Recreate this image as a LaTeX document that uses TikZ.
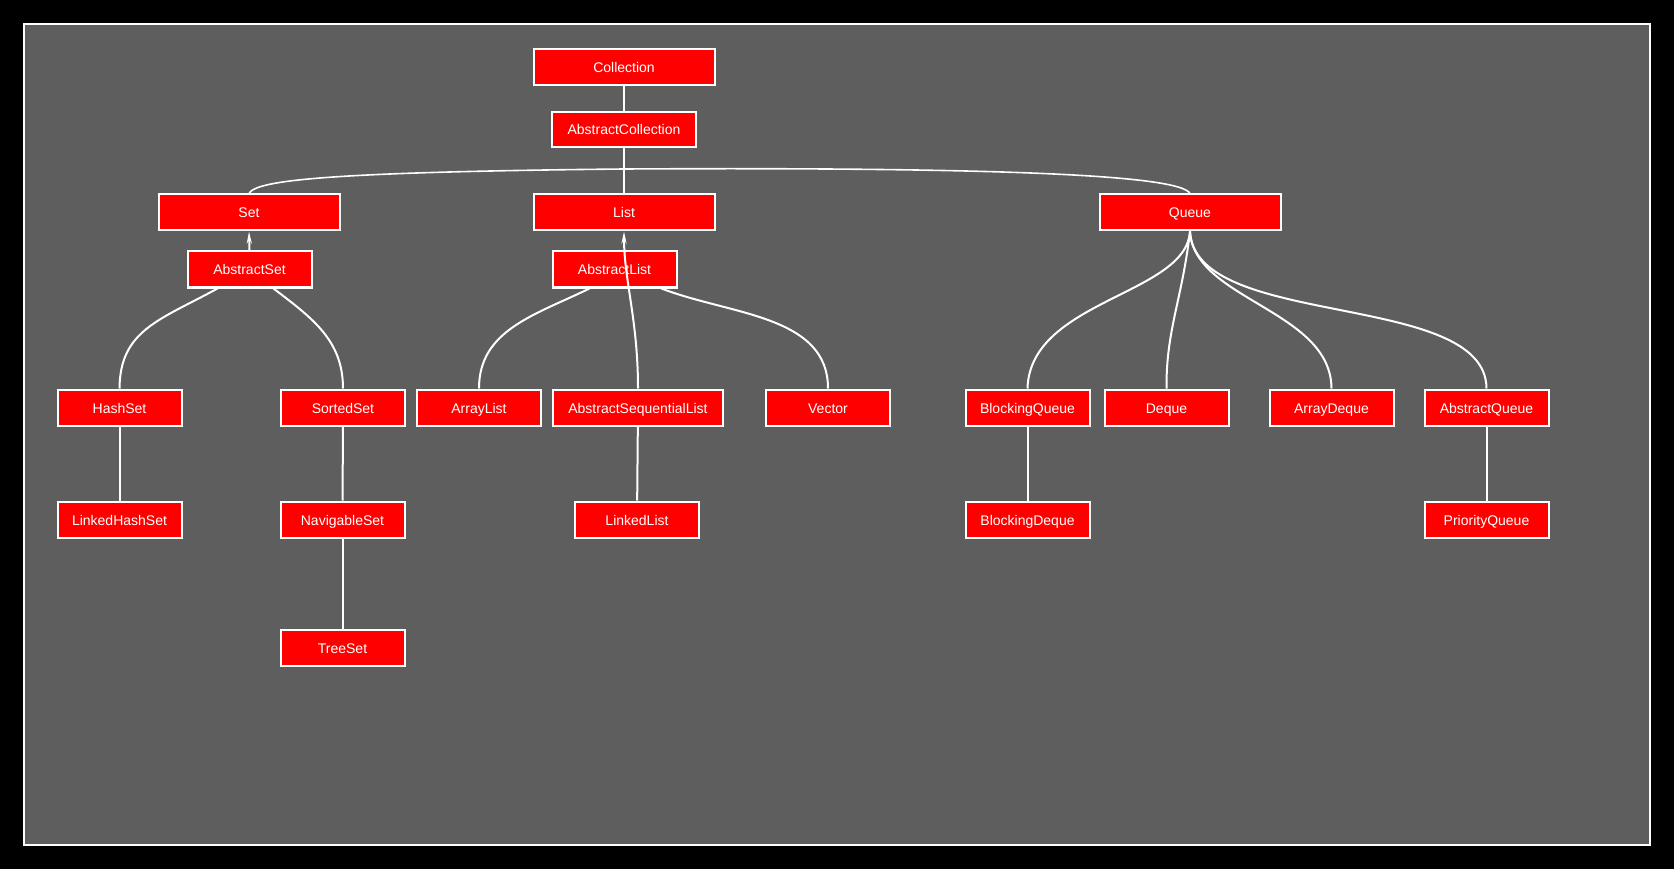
\documentclass[tikz,border=0pt]{standalone}
\usepackage{fontspec}
\setmainfont{Liberation Sans}
\usetikzlibrary{arrows.meta}
\definecolor{bggray}{RGB}{94,94,94}
\definecolor{boxred}{RGB}{255,0,0}
\tikzset{
  cls/.style={draw=white, line width=2pt, fill=boxred, text=white,
    font=\fontsize{14}{16}\selectfont, minimum height=36pt, inner sep=0pt,
    text height=12.5pt, text depth=1.5pt},
  smallcls/.style={cls, minimum width=124pt},
  bigcls/.style={cls, minimum width=181pt},
  link/.style={draw=white, line width=2pt},
  thinlink/.style={draw=white, line width=1.6pt},
  upto/.style={link, -{Stealth[length=12pt,width=5pt]}}
}
\begin{document}
\begin{tikzpicture}[x=1pt,y=-1pt]
\useasboundingbox (0,0) rectangle (1674,869);
\fill[black] (0,0) rectangle (1674,869);
\filldraw[fill=bggray, draw=white, line width=2.5pt] (24,24) rectangle (1650,845);

% nodes
\node[bigcls] (collection) at (624,67) {Collection};
\node[cls, minimum width=144pt, minimum height=35pt] (abscoll) at (624,129.5) {AbstractCollection};
\node[bigcls] (set) at (249,212.5) {Set};
\node[bigcls] (list) at (624,212.5) {List};
\node[bigcls] (queue) at (1190,212.5) {Queue};
\node[smallcls] (absset) at (249.5,269.5) {AbstractSet};
\node[smallcls] (abslist) at (614.5,269.5) {AbstractList};
\node[smallcls] (hashset) at (119.5,407.5) {HashSet};
\node[smallcls] (sortedset) at (343,407.5) {SortedSet};
\node[smallcls] (arraylist) at (479,407.5) {ArrayList};
\node[cls, minimum width=170pt] (absseq) at (638,407.5) {AbstractSequentialList};
\node[smallcls] (vector) at (828,407.5) {Vector};
\node[smallcls] (blockq) at (1027.5,407.5) {BlockingQueue};
\node[smallcls] (deque) at (1166.5,407.5) {Deque};
\node[smallcls] (arraydeque) at (1331.5,407.5) {ArrayDeque};
\node[smallcls] (absqueue) at (1486.5,407.5) {AbstractQueue};
\node[smallcls] (linkedhs) at (119.5,519.5) {LinkedHashSet};
\node[smallcls] (navset) at (342.5,519.5) {NavigableSet};
\node[smallcls] (linkedlist) at (637,519.5) {LinkedList};
\node[smallcls] (blockdeque) at (1027.5,519.5) {BlockingDeque};
\node[smallcls] (prioq) at (1486.5,519.5) {PriorityQueue};
\node[smallcls] (treeset) at (342.5,647.5) {TreeSet};

% connectors
\coordinate (hub) at (624,169);
\draw[link] (collection) -- (abscoll);
\draw[link] (abscoll) -- (list);
\draw[thinlink] (set.north) .. controls (256,180) and (330,172) .. (hub)
  .. controls (1000,167) and (1180,175) .. (queue.north);

\draw[upto] (absset.north) -- (set.south);

\draw[link] ([xshift=-32pt]absset.south) .. controls (160,320) and (120,330) .. (hashset.north);
\draw[link] ([xshift=24pt]absset.south) .. controls (312,318) and (343,340) .. (sortedset.north);
\draw[link] ([xshift=-25pt]abslist.south) .. controls (535,315) and (479,330) .. (arraylist.north);
\draw[link] ([xshift=47pt]abslist.south) .. controls (730,315) and (828,315) .. (vector.north);

\draw[link] (queue.south) .. controls (1186,295) and (1030,300) .. (blockq.north);
\draw[link] (queue.south) .. controls (1182,300) and (1166,330) .. (deque.north);
\draw[link] (queue.south) .. controls (1194,300) and (1331,310) .. (arraydeque.north);
\draw[link] (queue.south) .. controls (1195,330) and (1486,290) .. (absqueue.north);

\draw[link] (hashset) -- (linkedhs);
\draw[link] (sortedset) -- (navset);
\draw[link] (navset) -- (treeset);
\draw[link] (absseq) -- (linkedlist);
\draw[link] (blockq) -- (blockdeque);
\draw[link] (absqueue) -- (prioq);

\draw[upto] (absseq.north) .. controls (638,320) and (624,280) .. (list.south);
\end{tikzpicture}
\end{document}
